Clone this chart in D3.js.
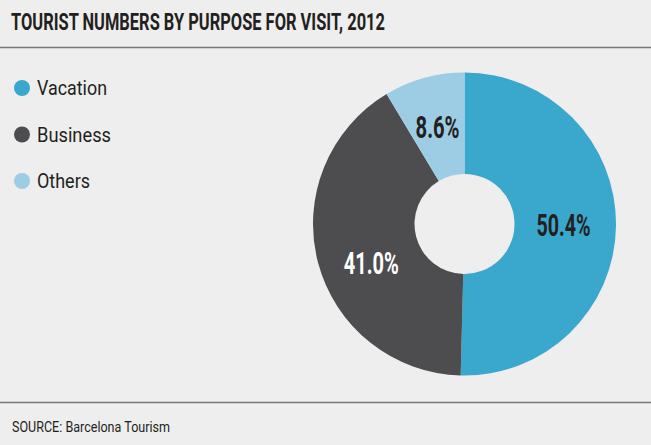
<!DOCTYPE html>
<html>
<head>
<meta charset="utf-8">
<script src="https://cdn.jsdelivr.net/npm/d3@7"></script>
<style>
  html, body { margin: 0; padding: 0; background: #eeeeee; }
  svg { display: block; }
  text { fill: #231f20; }
</style>
</head>
<body>
<svg id="chart"></svg>
<script>
const categories = ["Vacation", "Business", "Others"];
const shares = [50.4, 41.0, 8.6];
const labels = ["50.4%", "41.0%", "8.6%"];
const colors = ["#3aa7cd", "#4d4d4f", "#9dcde4"];

const W = 651, H = 445;
const font = "Roboto, 'Liberation Sans', sans-serif";

const svg = d3.select("#chart").attr("width", W).attr("height", H);

svg.append("rect").attr("width", W).attr("height", H).attr("fill", "#eeeeee");

// title + rules (condensed look via textLength)
svg.append("text")
  .attr("x", 11).attr("y", 29.5)
  .attr("textLength", 374).attr("lengthAdjust", "spacingAndGlyphs")
  .style("font-family", font)
  .style("font-weight", "bold")
  .style("font-size", "23px")
  .text("TOURIST NUMBERS BY PURPOSE FOR VISIT, 2012");

svg.append("line").attr("x1", 0).attr("x2", W).attr("y1", 47.5).attr("y2", 47.5)
  .attr("stroke", "#777").attr("stroke-width", 1.5);
svg.append("line").attr("x1", 0).attr("x2", W).attr("y1", 402.5).attr("y2", 402.5)
  .attr("stroke", "#777").attr("stroke-width", 1.5);

svg.append("text")
  .attr("x", 12).attr("y", 431.5)
  .attr("textLength", 158).attr("lengthAdjust", "spacingAndGlyphs")
  .style("font-family", font)
  .style("font-size", "14px")
  .text("SOURCE: Barcelona Tourism");

// legend
const legendWidths = [70, 74, 53];
const legend = svg.append("g").selectAll("g")
  .data(categories)
  .join("g")
  .attr("transform", (d, i) => `translate(22, ${88 + i * 46.5})`);

legend.append("circle").attr("r", 8).attr("fill", (d, i) => colors[i]);
legend.append("text")
  .attr("x", 15).attr("y", 7)
  .attr("textLength", (d, i) => legendWidths[i]).attr("lengthAdjust", "spacingAndGlyphs")
  .style("font-family", font)
  .style("font-size", "20px")
  .text(d => d);

// donut
const cx = 464.5, cy = 224, rOuter = 151.5, rInner = 50;
const pie = d3.pie().sort(null).value(d => d)(shares);
const arc = d3.arc().innerRadius(rInner).outerRadius(rOuter);

const g = svg.append("g").attr("transform", `translate(${cx},${cy})`);

g.selectAll("path")
  .data(pie)
  .join("path")
  .attr("d", arc)
  .attr("fill", (d, i) => colors[i]);

const labelR = [99, 101, 101];
const labelShift = [0, -8 * Math.PI / 180, 0];
const labelW = [54, 55, 44];
const labelFill = ["#231f20", "#ffffff", "#231f20"];

g.selectAll("text.lbl")
  .data(pie)
  .join("text")
  .attr("class", "lbl")
  .attr("transform", (d, i) => {
    const a = d3.arc().innerRadius(labelR[i]).outerRadius(labelR[i]);
    const c = a.centroid({ startAngle: d.startAngle + labelShift[i], endAngle: d.endAngle + labelShift[i] });
    return `translate(${c[0] - labelW[i] / 2},${c[1] + 11})`;
  })
  .attr("textLength", (d, i) => labelW[i]).attr("lengthAdjust", "spacingAndGlyphs")
  .style("font-family", font)
  .style("font-weight", "bold")
  .style("font-size", "31px")
  .style("fill", (d, i) => labelFill[i])
  .text((d, i) => labels[i]);
</script>
</body>
</html>
